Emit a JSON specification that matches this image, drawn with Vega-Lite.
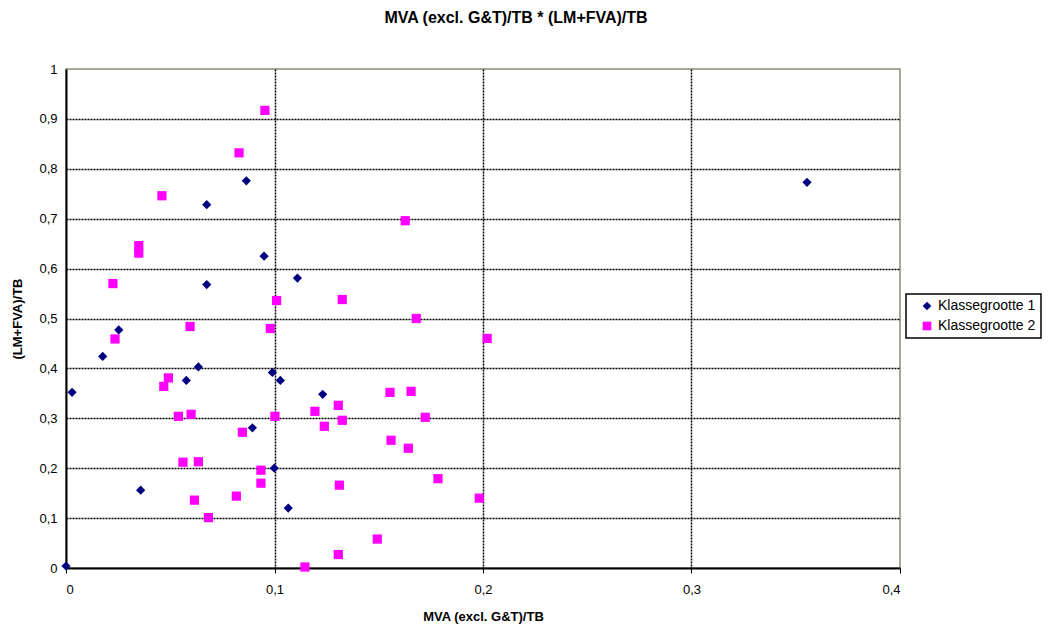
{
  "$schema": "https://vega.github.io/schema/vega-lite/v6.json",
  "autosize": {"type": "none"},
  "padding": {"left": 66, "top": 69, "right": 160, "bottom": 60},
  "width": 834,
  "height": 499,
  "background": "white",
  "title": {
    "text": "MVA (excl. G&T)/TB * (LM+FVA)/TB",
    "font": "Liberation Sans",
    "fontSize": 16,
    "fontWeight": "bold",
    "color": "black",
    "anchor": "middle",
    "dx": 33,
    "offset": 37
  },
  "data": {
    "values": [
      {"x": 0.0, "y": 0.004, "series": "Klassegrootte 1"},
      {"x": 0.0029, "y": 0.352, "series": "Klassegrootte 1"},
      {"x": 0.0176, "y": 0.424, "series": "Klassegrootte 1"},
      {"x": 0.0253, "y": 0.477, "series": "Klassegrootte 1"},
      {"x": 0.0358, "y": 0.156, "series": "Klassegrootte 1"},
      {"x": 0.0577, "y": 0.376, "series": "Klassegrootte 1"},
      {"x": 0.0635, "y": 0.403, "series": "Klassegrootte 1"},
      {"x": 0.0675, "y": 0.728, "series": "Klassegrootte 1"},
      {"x": 0.0675, "y": 0.568, "series": "Klassegrootte 1"},
      {"x": 0.0865, "y": 0.776, "series": "Klassegrootte 1"},
      {"x": 0.0894, "y": 0.281, "series": "Klassegrootte 1"},
      {"x": 0.095, "y": 0.625, "series": "Klassegrootte 1"},
      {"x": 0.099, "y": 0.392, "series": "Klassegrootte 1"},
      {"x": 0.0999, "y": 0.2, "series": "Klassegrootte 1"},
      {"x": 0.1028, "y": 0.376, "series": "Klassegrootte 1"},
      {"x": 0.1066, "y": 0.12, "series": "Klassegrootte 1"},
      {"x": 0.111, "y": 0.581, "series": "Klassegrootte 1"},
      {"x": 0.1231, "y": 0.348, "series": "Klassegrootte 1"},
      {"x": 0.3554, "y": 0.773, "series": "Klassegrootte 1"},
      {"x": 0.0225, "y": 0.57, "series": "Klassegrootte 2"},
      {"x": 0.0235, "y": 0.459, "series": "Klassegrootte 2"},
      {"x": 0.0349, "y": 0.646, "series": "Klassegrootte 2"},
      {"x": 0.0349, "y": 0.631, "series": "Klassegrootte 2"},
      {"x": 0.046, "y": 0.746, "series": "Klassegrootte 2"},
      {"x": 0.0469, "y": 0.364, "series": "Klassegrootte 2"},
      {"x": 0.0491, "y": 0.381, "series": "Klassegrootte 2"},
      {"x": 0.0539, "y": 0.304, "series": "Klassegrootte 2"},
      {"x": 0.0561, "y": 0.212, "series": "Klassegrootte 2"},
      {"x": 0.0595, "y": 0.484, "series": "Klassegrootte 2"},
      {"x": 0.06, "y": 0.308, "series": "Klassegrootte 2"},
      {"x": 0.0616, "y": 0.136, "series": "Klassegrootte 2"},
      {"x": 0.0635, "y": 0.213, "series": "Klassegrootte 2"},
      {"x": 0.0683, "y": 0.101, "series": "Klassegrootte 2"},
      {"x": 0.0817, "y": 0.144, "series": "Klassegrootte 2"},
      {"x": 0.083, "y": 0.832, "series": "Klassegrootte 2"},
      {"x": 0.0846, "y": 0.272, "series": "Klassegrootte 2"},
      {"x": 0.0935, "y": 0.196, "series": "Klassegrootte 2"},
      {"x": 0.0935, "y": 0.17, "series": "Klassegrootte 2"},
      {"x": 0.0954, "y": 0.917, "series": "Klassegrootte 2"},
      {"x": 0.098, "y": 0.48, "series": "Klassegrootte 2"},
      {"x": 0.1002, "y": 0.304, "series": "Klassegrootte 2"},
      {"x": 0.101, "y": 0.536, "series": "Klassegrootte 2"},
      {"x": 0.1146, "y": 0.002, "series": "Klassegrootte 2"},
      {"x": 0.1194, "y": 0.314, "series": "Klassegrootte 2"},
      {"x": 0.1239, "y": 0.284, "series": "Klassegrootte 2"},
      {"x": 0.1306, "y": 0.326, "series": "Klassegrootte 2"},
      {"x": 0.1306, "y": 0.027, "series": "Klassegrootte 2"},
      {"x": 0.1311, "y": 0.166, "series": "Klassegrootte 2"},
      {"x": 0.1325, "y": 0.538, "series": "Klassegrootte 2"},
      {"x": 0.1325, "y": 0.296, "series": "Klassegrootte 2"},
      {"x": 0.1493, "y": 0.058, "series": "Klassegrootte 2"},
      {"x": 0.1554, "y": 0.352, "series": "Klassegrootte 2"},
      {"x": 0.1559, "y": 0.256, "series": "Klassegrootte 2"},
      {"x": 0.1627, "y": 0.696, "series": "Klassegrootte 2"},
      {"x": 0.1642, "y": 0.24, "series": "Klassegrootte 2"},
      {"x": 0.1655, "y": 0.354, "series": "Klassegrootte 2"},
      {"x": 0.168, "y": 0.5, "series": "Klassegrootte 2"},
      {"x": 0.1723, "y": 0.302, "series": "Klassegrootte 2"},
      {"x": 0.1784, "y": 0.179, "series": "Klassegrootte 2"},
      {"x": 0.1982, "y": 0.14, "series": "Klassegrootte 2"},
      {"x": 0.202, "y": 0.46, "series": "Klassegrootte 2"}
    ]
  },
  "mark": {"type": "point", "filled": true, "opacity": 1, "strokeWidth": 0},
  "encoding": {
    "x": {
      "field": "x",
      "type": "quantitative",
      "scale": {"domain": [0, 0.4], "nice": false, "zero": true},
      "axis": {
        "title": "MVA (excl. G&T)/TB",
        "values": [0, 0.1, 0.2, 0.3, 0.4],
        "labelExpr": "replace(format(datum.value, '~g'), '.', ',')",
        "gridColor": {"condition": {"test": "datum.value >= 0.4 || datum.value <= 0", "value": "transparent"}, "value": "black"},
        "titleAnchor": "middle",
        "labelPadding": 10,
        "titlePadding": 14
      }
    },
    "y": {
      "field": "y",
      "type": "quantitative",
      "scale": {"domain": [0, 1], "nice": false},
      "axis": {
        "title": "(LM+FVA)/TB",
        "values": [0, 0.1, 0.2, 0.3, 0.4, 0.5, 0.6, 0.7, 0.8, 0.9, 1],
        "labelExpr": "replace(format(datum.value, '~g'), '.', ',')",
        "gridColor": {"condition": {"test": "datum.value >= 1 || datum.value <= 0", "value": "transparent"}, "value": "black"},
        "tickSize": 0,
        "labelPadding": 9,
        "titlePadding": 14
      }
    },
    "color": {
      "field": "series",
      "type": "nominal",
      "scale": {"domain": ["Klassegrootte 1", "Klassegrootte 2"], "range": ["#000080", "#FF00FF"]},
      "legend": {"title": null}
    },
    "shape": {
      "field": "series",
      "type": "nominal",
      "scale": {"domain": ["Klassegrootte 1", "Klassegrootte 2"], "range": ["diamond", "square"]},
      "legend": {"title": null}
    },
    "size": {"value": 85}
  },
  "config": {
    "font": "Liberation Sans",
    "view": {"stroke": "#8c8c78", "strokeWidth": 1.5},
    "axis": {
      "domainColor": "black",
      "domainWidth": 2,
      "tickColor": "black",
      "tickSize": 5,
      "labelFont": "Liberation Sans",
      "labelFontSize": 13,
      "labelColor": "black",
      "titleFont": "Liberation Sans",
      "titleFontSize": 13,
      "titleFontWeight": "bold",
      "titleColor": "black",
      "grid": true,
      "gridDash": [2, 1],
      "gridWidth": 1.5
    },
    "legend": {
      "orient": "none",
      "legendX": 840,
      "legendY": 225,
      "strokeColor": "black",
      "strokeWidth": 1.5,
      "fillColor": "white",
      "padding": 5,
      "rowPadding": 6,
      "labelFont": "Liberation Sans",
      "labelFontSize": 14,
      "labelColor": "black",
      "labelExpr": "datum.label + '\u00a0\u00a0\u00a0\u00a0\u00a0'",
      "symbolSize": 75,
      "symbolStrokeWidth": 0,
      "symbolOffset": 9,
      "labelOffset": 4,
      "labelLimit": 200
    }
  }
}
